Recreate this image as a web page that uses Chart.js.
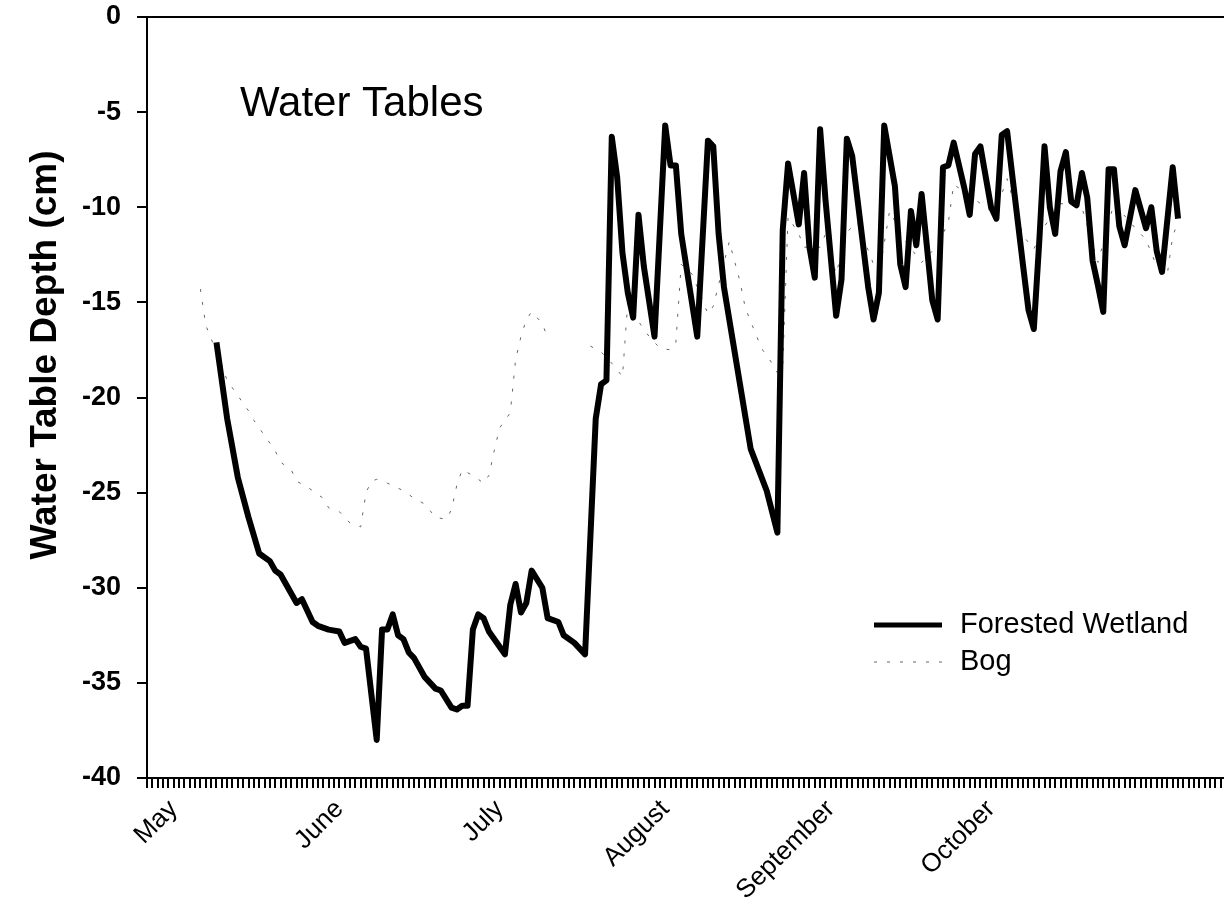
<!DOCTYPE html>
<html>
<head>
<meta charset="utf-8">
<title>Water Tables</title>
<script src="https://cdn.jsdelivr.net/npm/chart.js@4.4.1/dist/chart.umd.min.js"></script>
<style>
  html, body { margin: 0; padding: 0; background: #fff; }
</style>
</head>
<body>
<canvas id="myChart" width="1224" height="917"></canvas>
<script>
// days counted from the start of the axis (day 0 = April 26)
const diasBosque = [13, 15, 17, 19, 21, 23, 24, 25, 28, 29, 31, 32, 34, 36, 37, 39, 40, 41, 43, 44,
  45, 46, 47, 48, 49, 50, 52, 54, 55, 57, 58, 59, 60, 61, 62, 63, 64, 67, 68, 69,
  70, 71, 72, 74, 75, 77, 78, 80, 82, 84, 85, 86, 87, 88, 89, 90, 91, 92, 93, 95,
  97, 98, 99, 100, 103, 105, 106, 107, 108, 111, 113, 116, 118, 119, 120, 122, 123, 124, 125, 126,
  127, 129, 130, 131, 132, 133, 135, 136, 137, 138, 140, 141, 142, 143, 144, 145, 147, 148, 149, 150,
  151, 153, 154, 155, 156, 158, 159, 160, 161, 162, 164, 165, 166, 167, 168, 169, 170, 171, 172, 173,
  174, 175, 176, 177, 178, 179, 180, 181, 182, 183, 185, 187, 188, 189, 190, 192, 193];
const valoresBosque = [-17.1, -21.1, -24.2, -26.3, -28.2, -28.6, -29.1, -29.3, -30.8, -30.6, -31.8, -32.0, -32.2, -32.3, -32.9, -32.7, -33.1, -33.2, -38.0, -32.2,
  -32.2, -31.4, -32.5, -32.7, -33.4, -33.7, -34.7, -35.3, -35.4, -36.3, -36.4, -36.2, -36.2, -32.2, -31.4, -31.6, -32.3, -33.5, -30.9, -29.8,
  -31.3, -30.8, -29.1, -30.0, -31.6, -31.8, -32.5, -32.9, -33.5, -21.1, -19.3, -19.1, -6.3, -8.4, -12.4, -14.5, -15.8, -10.4, -13.1, -16.8,
  -5.7, -7.8, -7.8, -11.4, -16.8, -6.5, -6.8, -11.4, -14.2, -19.3, -22.7, -24.9, -27.1, -11.2, -7.7, -10.9, -8.2, -12.1, -13.7, -5.9,
  -9.6, -15.7, -13.8, -6.4, -7.3, -9.6, -14.2, -15.9, -14.5, -5.7, -8.9, -13.0, -14.2, -10.2, -12.0, -9.3, -14.9, -15.9, -7.9, -7.8,
  -6.6, -9.0, -10.4, -7.2, -6.8, -10.0, -10.6, -6.2, -6.0, -8.4, -13.1, -15.4, -16.4, -11.9, -6.8, -10.0, -11.4, -8.1, -7.1, -9.7,
  -9.9, -8.2, -9.5, -12.8, -14.1, -15.5, -8.0, -8.0, -11.0, -12.0, -9.1, -11.1, -10.0, -12.3, -13.4, -7.9, -10.6];

const diasBog = [10, 11, 12, 14, 15, 17, 19, 20, 22, 24, 25, 27, 28, 30, 33, 34, 36, 38, 40, 41,
  42, 43, 45, 48, 50, 52, 54, 56, 57, 58, 59, 61, 63, 64, 65, 66, 68, 69, 70, 71,
  72, 74, 75, 78, 83, 85, 87, 89, 90, 92, 94, 96, 98, 99, 100, 102, 104, 105, 106, 109,
  111, 112, 113, 114, 115, 117, 118, 119, 120, 122, 123, 126, 127, 129, 131, 133, 136, 137, 139, 142,
  145, 148, 150, 151, 153, 155, 158, 160, 161, 164, 166, 168, 171, 173, 175, 178, 181, 185, 187, 188,
  189, 191, 192, 193];
const valoresBog = [-14.3, -16.2, -16.9, -18.3, -19.1, -19.9, -20.7, -21.2, -22.0, -22.8, -23.4, -23.8, -24.4, -24.7, -25.3, -25.8, -26.0, -26.6, -26.8, -25.0,
  -24.4, -24.3, -24.5, -24.9, -25.3, -25.6, -26.3, -26.4, -25.9, -24.6, -23.8, -24.1, -24.5, -24.1, -22.8, -21.6, -20.8, -18.0, -16.8, -15.9,
  -15.5, -16.1, -16.9, null, -17.3, -17.6, -18.2, -18.9, -15.0, -16.0, -16.8, -17.4, -17.5, -17.1, -13.0, -13.5, -14.9, -15.6, -15.2, -11.8,
  -13.9, -15.3, -16.0, -16.7, -17.4, -18.2, -18.7, -18.4, -10.5, -11.4, -12.1, -12.1, -11.4, -13.5, -11.3, -10.8, -13.0, -13.6, -10.2, -11.8,
  -12.9, -12.0, -10.8, -8.8, -9.2, -9.6, -10.2, -9.3, -8.5, -11.5, -12.2, -11.0, -9.8, -9.9, -10.0, -12.9, -9.8, -11.1, -11.7, -12.4,
  -13.1, -13.5, -11.5, -10.8];

// month labels sit on the first day of each month
const mesesDias = [5, 36, 66, 97, 128, 158];
const mesesNombres = ["May", "June", "July", "August", "September", "October"];
const yTicks = [0, -5, -10, -15, -20, -25, -30, -35, -40];
const ultimoDia = 201.6;

const FUENTE = "'Liberation Sans', Arial, Helvetica, sans-serif";
Chart.defaults.font.family = FUENTE;
Chart.defaults.color = "#000";

// title, legend and y axis title drawn on top of the plot
const tituloYLeyenda = {
  id: "tituloYLeyenda",
  afterDatasetsDraw(chart) {
    const ctx = chart.ctx;
    ctx.save();
    ctx.fillStyle = "#000";
    ctx.font = "42px " + FUENTE;
    ctx.textBaseline = "alphabetic";
    ctx.textAlign = "left";
    ctx.fillText("Water Tables", 240, 116);

    chart.data.datasets.forEach((ds, i) => {
      const y = 625 + i * 37;
      ctx.strokeStyle = ds.borderColor;
      ctx.lineWidth = ds.legendWidth;
      ctx.setLineDash(ds.borderDash || []);
      ctx.beginPath();
      ctx.moveTo(874, y);
      ctx.lineTo(942, y);
      ctx.stroke();
      ctx.setLineDash([]);
      ctx.font = "29px " + FUENTE;
      ctx.textBaseline = "middle";
      ctx.fillText(ds.label, 960, y);
    });

    // y axis title
    ctx.translate(46, 355);
    ctx.rotate(-Math.PI / 2);
    ctx.font = "bold 37px " + FUENTE;
    ctx.textAlign = "center";
    ctx.textBaseline = "middle";
    ctx.fillText("Water Table Depth (cm)", 0, 0);
    ctx.restore();
  }
};

const bosque = diasBosque.map((d, i) => ({ x: d, y: valoresBosque[i] }));
const bog = diasBog.map((d, i) => ({ x: d, y: valoresBog[i] }));

const config = {
  type: "line",
  data: {
    datasets: [
      {
        label: "Forested Wetland",
        data: bosque,
        borderColor: "#000",
        borderWidth: 6,
        legendWidth: 5,
        pointRadius: 0,
        tension: 0,
        borderJoinStyle: "round"
      },
      {
        label: "Bog",
        data: bog,
        borderColor: "#666",
        borderWidth: 1,
        legendWidth: 1,
        borderDash: [3, 10],
        pointRadius: 0,
        tension: 0,
        spanGaps: false
      }
    ]
  },
  options: {
    responsive: false,
    animation: false,
    devicePixelRatio: 1,
    layout: { padding: { top: 17, left: 0, right: 0, bottom: 0 } },
    plugins: {
      legend: { display: false },
      tooltip: { enabled: false }
    },
    scales: {
      x: {
        type: "linear",
        min: 0,
        max: ultimoDia,
        afterBuildTicks: (scale) => {
          const t = [];
          for (let d = 0; d <= Math.floor(ultimoDia); d++) t.push({ value: d });
          scale.ticks = t;
        },
        afterFit: (scale) => {
          scale.height = 139;
          scale.paddingLeft = 0;
          scale.paddingRight = 0;
        },
        ticks: {
          autoSkip: false,
          minRotation: 45,
          maxRotation: 45,
          padding: 6,
          font: { size: 26 },
          callback: (v) => {
            const i = mesesDias.indexOf(v);
            return i >= 0 ? mesesNombres[i] : "";
          }
        },
        grid: {
          drawOnChartArea: false,
          drawTicks: true,
          tickLength: 10,
          tickColor: "#000",
          lineWidth: 2
        },
        border: { display: true, color: "#000", width: 2 }
      },
      y: {
        min: -40,
        max: 0,
        afterBuildTicks: (scale) => { scale.ticks = yTicks.map(v => ({ value: v })); },
        afterFit: (scale) => {
          scale.width = 147;
          scale.paddingTop = 0;
          scale.paddingBottom = 0;
        },
        ticks: {
          padding: 16,
          font: { size: 27, weight: "bold" }
        },
        grid: {
          color: (c) => (c.tick && c.tick.value === 0 ? "#000" : "rgba(0,0,0,0)"),
          lineWidth: 2,
          tickColor: "#000",
          tickLength: 10
        },
        border: { display: true, color: "#000", width: 2 }
      }
    }
  },
  plugins: [tituloYLeyenda]
};

const myChart = new Chart(document.getElementById("myChart"), config);
</script>
</body>
</html>
